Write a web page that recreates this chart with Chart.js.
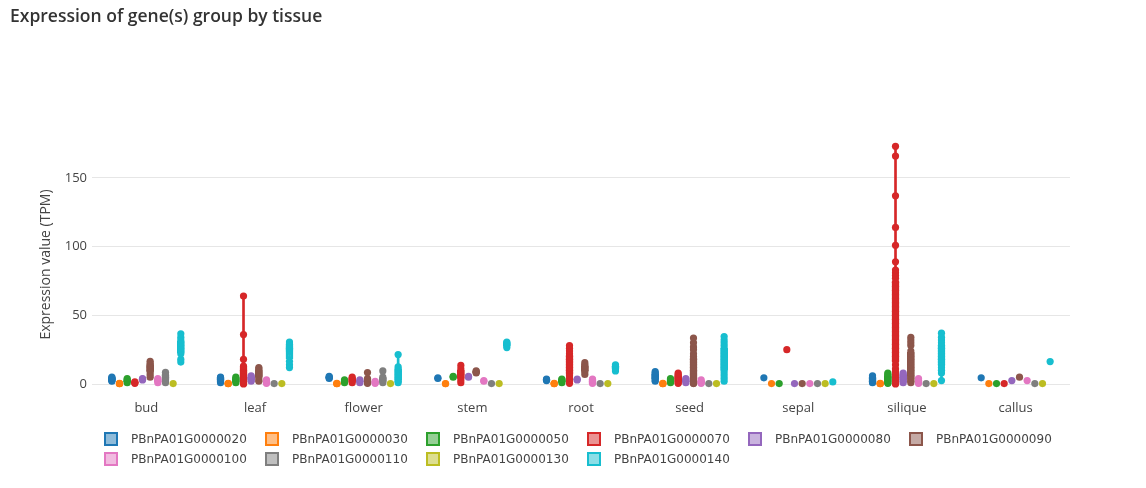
<!DOCTYPE html>
<html>
<head>
<meta charset="utf-8">
<script src="https://cdn.jsdelivr.net/npm/chart.js@4"></script>
<style>
  body { margin: 0; background: #fff; }
  #wrap { position: relative; width: 1146px; height: 488px; }
  #title { position: absolute; left: 10px; top: 3px; font: 600 17.5px "Open Sans", sans-serif; color: #333; }
  #chart { position: absolute; left: 0; top: 0; }
  #legend { position: absolute; left: 104px; top: 429px; width: 1000px; display: flex; flex-wrap: wrap; }
  .item { width: 161px; height: 20px; display: flex; align-items: center; font: 12px "DejaVu Sans", sans-serif; color: #444; }
  .swatch { width: 10px; height: 10px; border: 2px solid; margin-right: 13px; }
</style>
</head>
<body>
<div id="wrap">
  <canvas id="chart" width="1146" height="488"></canvas>
  <div id="title">Expression of gene(s) group by tissue</div>
  <div id="legend"></div>
</div>
<script>
// Tissues on the x axis
const tissues = ['bud', 'leaf', 'flower', 'stem', 'root', 'seed', 'sepal', 'silique', 'callus'];

const genes = ['PBnPA01G0000020', 'PBnPA01G0000030', 'PBnPA01G0000050', 'PBnPA01G0000070', 'PBnPA01G0000080',
               'PBnPA01G0000090', 'PBnPA01G0000100', 'PBnPA01G0000110', 'PBnPA01G0000130', 'PBnPA01G0000140'];

const geneColors = ['#1f77b4', '#ff7f0e', '#2ca02c', '#d62728', '#9467bd',
                    '#8c564b', '#e377c2', '#7f7f7f', '#bcbd22', '#17becf'];

const yTicks = [0, 50, 100, 150];

// Samples (TPM) per gene, one list per tissue
const exp020 = [[2, 2.5, 3, 3.5, 4, 4.5, 5], [1, 2, 3, 3.5, 4, 4.5, 5], [4, 4.5, 5, 5.5], [4, 4.5], [2.5, 3, 3.5],
                [2, 3, 4, 5, 6, 7, 8, 9], [4.5], [1, 1.5, 2, 3, 4, 5, 6], [4.5]];
const exp030 = [[0.2, 0.3, 0.4], [0.2, 0.3, 0.4], [0.2, 0.3, 0.4], [0.2, 0.3], [0.2, 0.3, 0.4],
                [0.2, 0.3, 0.4], [0.3], [0.2, 0.3, 0.4], [0.3]];
const exp050 = [[1, 2, 3, 4], [1, 2, 3, 4, 5], [1, 2, 3], [5, 5.5], [1, 2, 3, 3.5],
                [1, 2, 3, 4], [0.3], [0.5, 1, 2, 3, 4, 5, 6, 7, 8], [0.3]];
const exp070 = [[0.5, 1, 1.5], [0, 0.5, 1, 1.5, 2, 3, 4, 5, 6, 7, 8, 9, 10, 12, 13, 18, 36, 64], [1, 2, 3, 4, 5],
                [1, 3, 5, 7, 9, 11, 13.5], [0.5, 2, 4, 6, 8, 10, 12, 14, 16, 18, 20, 22, 24, 26, 28],
                [0.5, 1, 2, 3, 4, 5, 6, 7, 8], [25],
                [0, 0.5, 1, 2, 3, 5, 7, 9, 11, 14, 17, 20, 23, 26, 29, 32, 35, 38, 41, 44, 47, 50, 53, 56, 59,
                 62, 65, 68, 71, 74, 77, 79, 81, 83, 89, 101, 114, 137, 166, 173], [0.3]];
const exp080 = [[3, 3.5, 4], [2, 3, 4, 5, 6], [1, 2, 3], [5, 5.5], [3, 3.5],
                [1, 2, 3, 4], [0.3], [1, 2, 3, 4, 5, 6, 7, 8], [2.5]];
const exp090 = [[5, 7, 9, 10, 11, 12, 13, 14, 15, 16.5], [2, 3, 5, 6, 7, 8, 9, 10, 11, 12], [0.5, 1, 2, 3, 4, 8.3],
                [8, 8.5, 9, 9.5], [7, 9, 10, 11, 12, 13, 14, 15.5],
                [0.3, 0.5, 1, 1.5, 2, 3, 4, 5, 6, 7, 8, 9, 10, 12, 14, 16, 18, 20, 22, 25, 27, 30, 33.5], [0.3],
                [1, 2, 3, 4, 5, 6, 8, 10, 12, 14, 16, 18, 20, 22, 24, 28, 30, 32, 34], [5]];
const exp100 = [[1, 2, 3, 4], [0.5, 1, 2, 3], [0.5, 1, 2], [2, 2.5], [0.5, 1, 2, 3, 3.5],
                [0.5, 1, 2, 3], [0.3], [0.5, 1, 2, 3, 4], [2.5]];
const exp110 = [[1, 2, 3, 4, 5, 6, 7, 8.5], [0.3], [1, 2, 3, 4, 5, 9.5], [0.3], [0.3],
                [0.3], [0.3], [0.3], [0.3]];
const exp130 = [[0.3], [0.3], [0.3], [0.3], [0.3], [0.3], [0.3], [0.3], [0.3]];
const exp140 = [[16, 18, 22, 24, 26, 28, 30, 32, 34, 36.5], [12, 14, 16.5, 24, 25, 26, 27, 28, 29, 30.5],
                [1, 2, 3, 5, 7, 9, 11, 12.5, 21.5], [26.5, 28, 29, 30, 30.5], [9.5, 11, 12, 13, 14],
                [2, 4, 6, 8, 10, 12, 14, 16, 18, 20, 22, 24, 26, 28, 30, 32, 34.5], [1.5],
                [2.5, 8, 10, 12, 14, 16, 18, 20, 22, 24, 26, 28, 30, 32, 34, 37], [16.3]];

const geneSamples = [exp020, exp030, exp050, exp070, exp080, exp090, exp100, exp110, exp130, exp140];

// --- helpers ---

function quantile(sorted, q) {
    const pos = (sorted.length - 1) * q;
    const lo = Math.floor(pos);
    const hi = Math.ceil(pos);
    return sorted[lo] + (sorted[hi] - sorted[lo]) * (pos - lo);
}

function rgba(hex, alpha) {
    const n = parseInt(hex.slice(1), 16);
    return `rgba(${n >> 16}, ${(n >> 8) & 255}, ${n & 255}, ${alpha})`;
}

// offset of each gene inside a tissue group
const groupStep = 0.0705;

const datasets = [];
genes.forEach((gene, g) => {
    const off = (g - (genes.length - 1) / 2) * groupStep;
    const samples = geneSamples[g];
    const color = geneColors[g];

    // points drawn on top (lowest order)
    datasets.push({
        type: 'scatter',
        label: gene,
        order: 1,
        data: samples.flatMap((vals, t) => vals.map(v => ({ x: t + off, y: v }))),
        backgroundColor: color,
        borderColor: color,
        pointRadius: 3.6,
        pointBorderWidth: 0,
    });

    datasets.push({
        type: 'bar',
        label: gene + ' box',
        order: 2,
        grouped: false,
        barThickness: 7,
        data: samples.map((vals, t) => {
            const s = [...vals].sort((a, b) => a - b);
            return { x: t + off, y: [quantile(s, 0.25), quantile(s, 0.75)] };
        }),
        backgroundColor: rgba(color, 0.5),
        borderColor: color,
        borderWidth: 2,
        borderSkipped: false,
    });

    datasets.push({
        type: 'bar',
        label: gene + ' whisker',
        order: 3,
        grouped: false,
        barThickness: 2,
        data: samples.map((vals, t) => ({ x: t + off, y: [Math.min(...vals), Math.max(...vals)] })),
        backgroundColor: color,
        borderWidth: 0,
    });
});

new Chart(document.getElementById('chart'), {
    type: 'scatter',
    data: { datasets },
    options: {
        responsive: false,
        animation: false,
        events: [],
        layout: { padding: { left: 0, right: 76, top: 134, bottom: 63 } },
        plugins: {
            legend: { display: false },
            tooltip: { enabled: false },
        },
        scales: {
            x: {
                type: 'linear',
                min: -0.5,
                max: 8.5,
                offset: false,
                grid: { display: false, drawTicks: false },
                border: { display: false },
                afterFit: s => { s.height = 30; },
                afterBuildTicks: s => { s.ticks = tissues.map((t, i) => ({ value: i })); },
                ticks: {
                    padding: 5,
                    color: '#444',
                    font: { family: 'Open Sans', size: 13 },
                    callback: v => tissues[v],
                },
            },
            y: {
                min: -8,
                max: 182,
                grid: { color: '#e6e6e6', drawTicks: false },
                border: { display: false },
                afterFit: s => { s.width = 92; },
                afterBuildTicks: s => { s.ticks = yTicks.map(v => ({ value: v })); },
                ticks: {
                    padding: 5,
                    color: '#444',
                    font: { family: 'Open Sans', size: 13 },
                },
                title: {
                    display: true,
                    text: 'Expression value (TPM)',
                    color: '#444',
                    font: { family: 'Open Sans', size: 14 },
                    padding: { top: 38, bottom: 0 },
                },
            },
        },
    },
});

// HTML legend, 6 items per row
const legendBox = document.getElementById('legend');
genes.forEach((gene, g) => {
    const item = document.createElement('div');
    item.className = 'item';
    item.innerHTML = `<span class="swatch" style="border-color:${geneColors[g]};background:${rgba(geneColors[g], 0.5)}"></span>${gene}`;
    legendBox.appendChild(item);
});
</script>
</body>
</html>
